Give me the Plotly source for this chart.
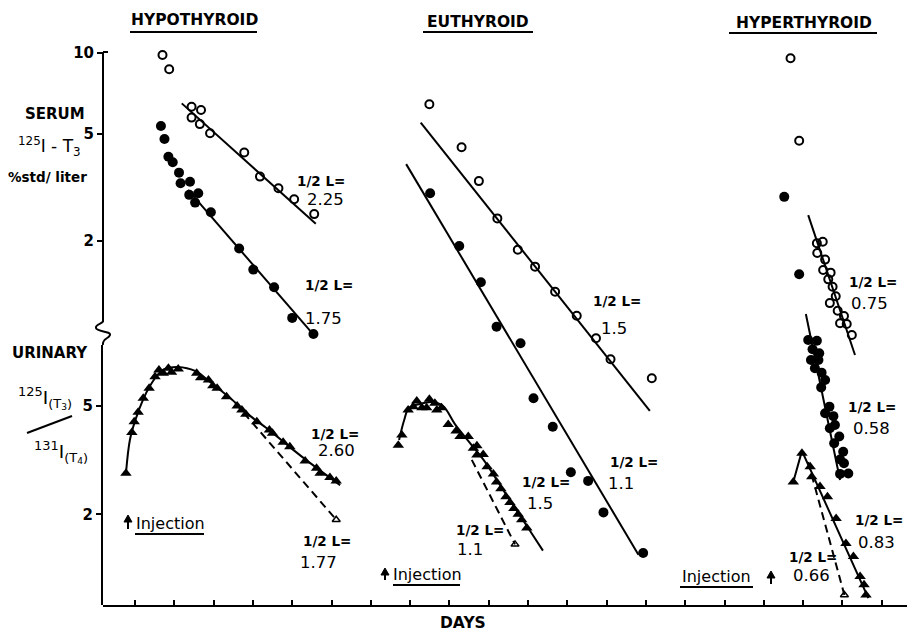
import plotly.graph_objects as go

# ---------------- DATA (day along the shared DAYS axis; ticks 1 day apart) ----------------
# Hypothyroid - serum 125I-T3 (% std / liter)
hypo_serum_open_day = [1.70, 1.87, 2.44, 2.68, 2.44, 2.65, 2.91, 3.78, 4.18, 4.65, 5.05, 5.56]
hypo_serum_open_val = [9.79, 8.67, 6.30, 6.12, 5.74, 5.43, 5.02, 4.26, 3.47, 3.14, 2.86, 2.52]
hypo_serum_open_fit_day = [2.19, 5.60]
hypo_serum_open_fit_val = [6.48, 2.32]

hypo_serum_filled_day = [1.66, 1.75, 1.85, 1.96, 2.12, 2.16, 2.40, 2.38, 2.61, 2.53, 2.93, 3.65, 4.01, 4.54, 5.00, 5.54]
hypo_serum_filled_val = [5.34, 4.78, 4.11, 3.92, 3.59, 3.28, 3.32, 2.97, 3.01, 2.78, 2.56, 1.88, 1.57, 1.35, 1.04, 0.906]
hypo_serum_filled_fit_day = [2.35, 5.53]
hypo_serum_filled_fit_val = [3.10, 0.906]

# Hypothyroid - urinary 125I(T3)/131I(T4)
hypo_urin_day = [0.77, 0.92, 0.98, 1.08, 1.21, 1.36, 1.51, 1.61, 1.72, 1.85, 1.93, 2.10, 2.57, 2.67, 2.87, 2.98,
                 3.09, 3.33, 3.60, 3.72, 3.82, 4.10, 4.42, 4.50, 4.77, 4.94, 5.33, 5.62, 5.71, 5.96, 6.12]
hypo_urin_val = [2.83, 4.00, 4.38, 4.74, 5.34, 5.81, 6.41, 6.78, 6.60, 6.88, 6.65, 6.84, 6.60, 6.35, 6.23, 5.94,
                 5.81, 5.41, 5.00, 4.83, 4.66, 4.38, 4.08, 3.97, 3.68, 3.54, 3.14, 2.95, 2.83, 2.73, 2.65]
hypo_urin_curve_day = [0.77, 0.87, 1.00, 1.20, 1.38, 1.59, 1.76, 2.09, 2.53, 2.91, 3.42, 3.93, 4.44, 4.94, 5.45, 6.22]
hypo_urin_curve_val = [2.83, 3.75, 4.40, 5.26, 5.92, 6.55, 6.84, 6.96, 6.73, 6.13, 5.35, 4.60, 4.05, 3.53, 3.09, 2.56]
hypo_urin_dash_day = [3.55, 6.12]
hypo_urin_dash_val = [5.13, 1.91]
hypo_urin_open_day = [6.12]
hypo_urin_open_val = [1.91]

# Euthyroid - serum
euth_serum_open_day = [8.49, 9.31, 9.75, 10.22, 10.74, 11.18, 11.69, 12.24, 12.73, 13.10, 14.15]
euth_serum_open_val = [6.43, 4.46, 3.34, 2.43, 1.86, 1.61, 1.30, 1.06, 0.874, 0.731, 0.622]
euth_serum_open_fit_day = [8.27, 14.10]
euth_serum_open_fit_val = [5.50, 0.471]

euth_serum_filled_day = [8.51, 9.25, 9.80, 10.20, 10.81, 11.14, 11.63, 12.09, 12.53, 12.92, 13.93]
euth_serum_filled_val = [3.01, 1.92, 1.41, 0.965, 0.838, 0.524, 0.411, 0.279, 0.259, 0.198, 0.140]
euth_serum_filled_fit_day = [7.90, 13.81]
euth_serum_filled_fit_val = [3.86, 0.138]

# Euthyroid - urinary
euth_urin_day = [7.70, 7.79, 7.95, 8.08, 8.17, 8.30, 8.49, 8.42, 8.63, 8.68, 8.80, 8.97, 9.17, 9.27, 9.48,
                 9.61, 9.70, 9.70, 9.86, 9.96, 10.12, 10.20, 10.31, 10.44, 10.54, 10.64, 10.75, 10.84, 10.97]
euth_urin_val = [3.59, 3.91, 4.83, 4.97, 5.22, 4.93, 5.30, 4.93, 5.12, 4.83, 4.93, 4.28, 4.05, 3.86, 3.86,
                 3.50, 3.57, 3.30, 3.32, 2.99, 2.81, 2.63, 2.48, 2.32, 2.21, 2.10, 2.00, 1.91, 1.78]
euth_urin_curve_day = [7.72, 7.85, 7.97, 8.25, 8.56, 8.84, 9.14, 9.52, 9.91, 10.29, 10.67, 11.05, 11.38]
euth_urin_curve_val = [3.75, 4.44, 4.92, 5.09, 5.17, 5.00, 4.29, 3.66, 3.11, 2.56, 2.11, 1.74, 1.47]
euth_urin_dash_day = [9.57, 10.67]
euth_urin_dash_val = [3.17, 1.55]
euth_urin_open_day = [10.67]
euth_urin_open_val = [1.55]

# Hyperthyroid - serum
hyper_serum_open_day = [17.68, 17.90, 18.35, 18.50, 18.36, 18.56, 18.51, 18.70, 18.64, 18.75, 18.83, 18.68,
                        18.88, 19.04, 18.94, 19.11, 19.24]
hyper_serum_open_val = [9.52, 4.71, 1.965, 1.99, 1.81, 1.71, 1.565, 1.53, 1.445, 1.357, 1.25, 1.18,
                        1.106, 1.057, 0.993, 0.987, 0.899]
hyper_serum_open_fit_day = [18.13, 19.32]
hyper_serum_open_fit_val = [2.50, 0.758]

hyper_serum_filled_day = [17.52, 17.90, 18.13, 18.35, 18.24, 18.41, 18.20, 18.39, 18.30, 18.47, 18.56, 18.46,
                          18.67, 18.56, 18.77, 18.81, 18.68, 18.92, 18.79, 19.02, 18.94, 19.04, 18.94, 19.15]
hyper_serum_filled_val = [2.92, 1.51, 0.861, 0.856, 0.796, 0.769, 0.726, 0.726, 0.677, 0.652, 0.612, 0.575,
                          0.488, 0.461, 0.450, 0.417, 0.406, 0.378, 0.357, 0.332, 0.311, 0.301, 0.275, 0.276]
hyper_serum_filled_fit_day = [18.07, 18.94]
hyper_serum_filled_fit_val = [1.075, 0.261]

# Hyperthyroid - urinary
hyper_urin_day = [17.75, 17.97, 18.18, 18.22, 18.43, 18.62, 18.84, 19.09, 19.28, 19.45, 19.55, 19.60]
hyper_urin_val = [2.63, 3.35, 2.99, 2.75, 2.53, 2.32, 1.93, 1.56, 1.40, 1.18, 1.10, 1.01]
hyper_urin_curve_day = [17.75, 17.97, 19.66]
hyper_urin_curve_val = [2.63, 3.42, 0.984]
hyper_urin_dash_day = [18.13, 19.05]
hyper_urin_dash_val = [3.11, 1.01]
hyper_urin_open_day = [19.05]
hyper_urin_open_val = [1.01]

day_ticks = list(range(1, 21))
serum_ticks = [2, 5, 10]
urin_ticks = [2, 5]

# ---------------- FIGURE ----------------
FONT = "DejaVu Sans"
PAGE_OFF = 8                      # default body margin of the html page
W, H = 915 - PAGE_OFF, 633 - PAGE_OFF
PLOT_X0, PLOT_X1, PLOT_Y0, PLOT_Y1 = 103, 915, 40, 605   # plot area in window pixels
L = PLOT_X0 - PAGE_OFF
T = PLOT_Y0 - PAGE_OFF
R = W - (PLOT_X1 - PAGE_OFF)
B = H - (PLOT_Y1 - PAGE_OFF)
PW, PH = PLOT_X1 - PLOT_X0, PLOT_Y1 - PLOT_Y0


def pp(px, py):
    """window pixel -> paper coordinates (for decorations / text)"""
    return (px - PLOT_X0) / PW, (PLOT_Y1 - py) / PH


fig = go.Figure()


def pts(x, y, yaxis, kind):
    if kind == "open":
        m = dict(symbol="circle-open", size=8, color="black", line=dict(width=2, color="black"))
    elif kind == "filled":
        m = dict(symbol="circle", size=10, color="black")
    elif kind == "tri":
        m = dict(symbol="triangle-up", size=10, color="black")
    else:
        m = dict(symbol="triangle-up-open", size=7, color="black", line=dict(width=1.5, color="black"))
    fig.add_trace(go.Scatter(x=x, y=y, mode="markers", marker=m, yaxis=yaxis, xaxis="x",
                             hoverinfo="skip", cliponaxis=False))


def line(x, y, yaxis, dash="solid", shape="linear"):
    fig.add_trace(go.Scatter(x=x, y=y, mode="lines", yaxis=yaxis, xaxis="x",
                             line=dict(color="black", width=2, dash=dash, shape=shape), hoverinfo="skip"))


DASH = "8px,5px"

# serum (y)
line(hypo_serum_open_fit_day, hypo_serum_open_fit_val, "y")
line(hypo_serum_filled_fit_day, hypo_serum_filled_fit_val, "y")
line(euth_serum_open_fit_day, euth_serum_open_fit_val, "y")
line(euth_serum_filled_fit_day, euth_serum_filled_fit_val, "y")
line(hyper_serum_open_fit_day, hyper_serum_open_fit_val, "y")
line(hyper_serum_filled_fit_day, hyper_serum_filled_fit_val, "y")
pts(hypo_serum_open_day, hypo_serum_open_val, "y", "open")
pts(hypo_serum_filled_day, hypo_serum_filled_val, "y", "filled")
pts(euth_serum_open_day, euth_serum_open_val, "y", "open")
pts(euth_serum_filled_day, euth_serum_filled_val, "y", "filled")
pts(hyper_serum_open_day, hyper_serum_open_val, "y", "open")
pts(hyper_serum_filled_day, hyper_serum_filled_val, "y", "filled")

# urinary (y2)
line(hypo_urin_curve_day, hypo_urin_curve_val, "y2", shape="spline")
line(hypo_urin_dash_day, hypo_urin_dash_val, "y2", dash=DASH)
line(euth_urin_curve_day, euth_urin_curve_val, "y2", shape="spline")
line(euth_urin_dash_day, euth_urin_dash_val, "y2", dash=DASH)
line(hyper_urin_curve_day, hyper_urin_curve_val, "y2")
line(hyper_urin_dash_day, hyper_urin_dash_val, "y2", dash=DASH)
pts(hypo_urin_day, hypo_urin_val, "y2", "tri")
pts(euth_urin_day, euth_urin_val, "y2", "tri")
pts(hyper_urin_day, hyper_urin_val, "y2", "tri")
pts(hypo_urin_open_day, hypo_urin_open_val, "y2", "otri")
pts(euth_urin_open_day, euth_urin_open_val, "y2", "otri")
pts(hyper_urin_open_day, hyper_urin_open_val, "y2", "otri")

tickfont = dict(family=FONT, size=15, color="black", weight="bold")
fig.update_layout(
    width=W, height=H, margin=dict(l=L, r=R, t=T, b=B, pad=0),
    paper_bgcolor="white", plot_bgcolor="rgba(0,0,0,0)", showlegend=False,
    font=dict(family=FONT, color="black", size=14),
    xaxis=dict(domain=[0, 1], range=[0.186, 20.847], showline=True, linecolor="black", linewidth=2,
               ticks="inside", ticklen=5, tickwidth=1.5, tickcolor="black", tickvals=day_ticks,
               showticklabels=False, showgrid=False, zeroline=False, anchor="y"),
    yaxis=dict(type="log", domain=[0, 1], range=[-1.0463, 1.0463], showline=False, showgrid=False,
               zeroline=False, tickvals=serum_ticks, ticktext=[str(v) for v in serum_ticks],
               ticks="outside", ticklen=5, tickwidth=2, tickcolor="black", tickfont=tickfont, anchor="x"),
    yaxis2=dict(type="log", domain=[0, (PLOT_Y1 - 345) / PH], range=[-0.0326, 0.9233], showline=True,
                linecolor="black", linewidth=2, showgrid=False, zeroline=False, tickvals=urin_ticks,
                ticktext=[str(v) for v in urin_ticks], ticks="outside", ticklen=5, tickwidth=2,
                tickcolor="black", tickfont=tickfont, anchor="x"),
)

shapes = []


def seg(p0, p1, w=2):
    x0, y0 = pp(*p0)
    x1, y1 = pp(*p1)
    shapes.append(dict(type="line", xref="paper", yref="paper", x0=x0, y0=y0, x1=x1, y1=y1,
                       line=dict(color="black", width=w)))


def poly(points):
    c = [pp(*q) for q in points]
    path = "M " + " L ".join("{:.5f},{:.5f}".format(*q) for q in c) + " Z"
    shapes.append(dict(type="path", xref="paper", yref="paper", path=path,
                       fillcolor="black", line=dict(color="black", width=1)))


# upper (serum) axis line and the axis break squiggle
seg((103, 52), (103, 322))
seg((103, 52), (108, 52))
sq = [(103, 321), (103, 324), (95, 324), (96, 328), (97, 332), (111, 331), (110, 335),
      (109, 339), (102, 338), (103, 345)]
c = [pp(*q) for q in sq]
path = "M {:.5f},{:.5f} ".format(*c[0])
for i in range(1, len(c), 3):
    path += "C {:.5f},{:.5f} {:.5f},{:.5f} {:.5f},{:.5f} ".format(*c[i], *c[i + 1], *c[i + 2])
shapes.append(dict(type="path", xref="paper", yref="paper", path=path, line=dict(color="black", width=2)))

# title underlines
seg((130, 32), (257, 32))
seg((423, 32), (533, 32))
seg((729, 33), (877, 33))
# injection underlines
seg((135, 534), (204, 534))
seg((393, 585), (460, 585))
seg((680, 587), (753, 587))
# slash in urinary ratio label
seg((27, 433), (72, 416))
# injection arrows (shaft + head)
for (ax_, tip, tail) in [(128, 515, 529), (385, 568, 580), (771, 571, 584)]:
    seg((ax_, tail), (ax_, tip + 5), w=2)
    poly([(ax_, tip), (ax_ - 4, tip + 7), (ax_ + 4, tip + 7)])
fig.update_layout(shapes=shapes)


def label(text, px, py, size, bold=False, xanchor="center"):
    x, y = pp(px, py)
    fig.add_annotation(x=x, y=y, xref="paper", yref="paper", text=text, showarrow=False,
                       xanchor=xanchor, yanchor="middle",
                       font=dict(family=FONT, size=size, color="black", weight="bold" if bold else "normal"))


# panel titles
label("HYPOTHYROID", 194, 20, 15.5, True)
label("EUTHYROID", 478, 22, 15.5, True)
label("HYPERTHYROID", 804, 23, 15.5, True)
label("DAYS", 463, 623, 15.5, True)

# y-axis captions
label("SERUM", 55, 114, 15, True)
label("<sup>125</sup>I - T<sub>3</sub>", 49, 146, 17)
label("%std/ liter", 47, 177, 13.5, True)
label("URINARY", 50, 353, 15, True)
label("<sup>125</sup>I<sub>(T<sub>3</sub>)</sub>", 45, 398, 18.5)
label("<sup>131</sup>I<sub>(T<sub>4</sub>)</sub>", 61, 452, 18.5)

# half-life labels
HL = "1/2 L="
for (x1, y1, x2, y2, val) in [
    (321, 181, 325, 199, "2.25"), (329, 285, 323, 318, "1.75"),
    (335, 434, 336, 450, "2.60"), (327, 541, 318, 562, "1.77"),
    (617, 301, 614, 328, "1.5"), (634, 462, 621, 483, "1.1"),
    (546, 482, 540, 503, "1.5"), (480, 530, 470, 549, "1.1"),
    (873, 282, 869, 303, "0.75"), (872, 407, 871, 428, "0.58"),
    (879, 520, 876, 542, "0.83"), (813, 557, 811, 575, "0.66")]:
    label(HL, x1, y1, 13.5, True)
    label(val, x2, y2, 16.5)

# injection labels
label("Injection", 170, 523, 16)
label("Injection", 427, 574, 16)
label("Injection", 716, 576, 16)

fig.write_html("out.html")
